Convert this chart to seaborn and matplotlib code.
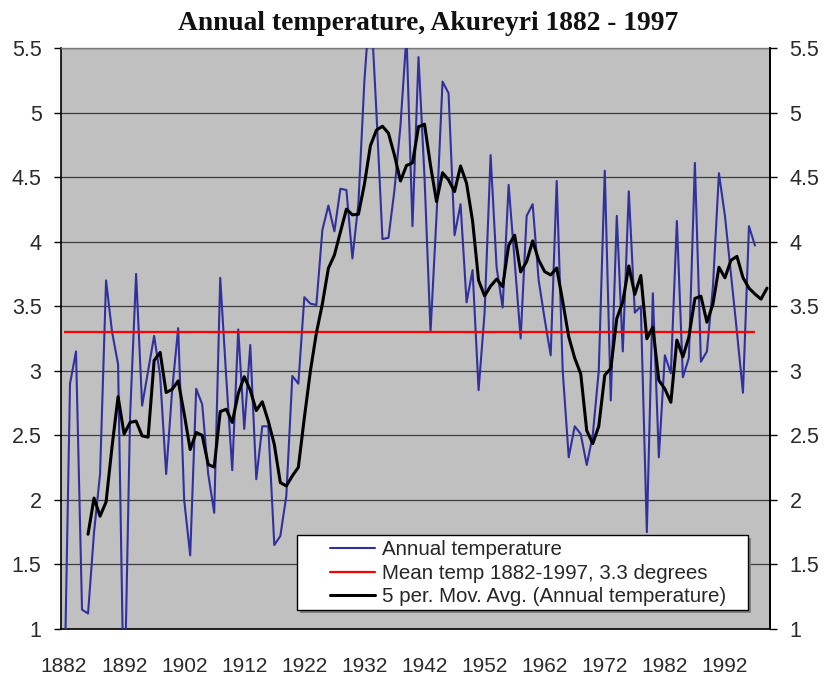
"""
Annual temperature at Akureyri 1882 - 1997 with the long-term mean
and a 5 year moving average, redrawn from an old spreadsheet chart.
"""

import numpy as np
import pandas as pd
import matplotlib.pyplot as plt
from matplotlib.patches import Rectangle
from matplotlib.lines import Line2D
import seaborn as sns

# ---- data ----
years = list(range(1882, 1998))
annual_temp = [
    0.35, 2.90, 3.15, 1.15, 1.12, 1.75, 2.20, 3.70, 3.30, 3.05,   # 1882-1891
    0.30, 2.65, 3.75, 2.73, 3.00, 3.27, 2.96, 2.20, 2.85, 3.33,   # 1892-1901
    2.00, 1.57, 2.86, 2.74, 2.20, 1.90, 3.72, 2.95, 2.23, 3.32,   # 1902-1911
    2.55, 3.20, 2.16, 2.57, 2.57, 1.65, 1.72, 2.03, 2.96, 2.90,   # 1912-1921
    3.57, 3.52, 3.51, 4.09, 4.28, 4.08, 4.41, 4.40, 3.87, 4.30,   # 1922-1931
    5.25, 5.90, 5.00, 4.02, 4.03, 4.40, 4.90, 5.60, 4.12, 5.43,   # 1932-1941
    4.50, 3.30, 4.20, 5.24, 5.15, 4.05, 4.29, 3.53, 3.78, 2.85,   # 1942-1951
    3.45, 4.67, 3.80, 3.49, 4.44, 3.85, 3.25, 4.20, 4.29, 3.70,   # 1952-1961
    3.40, 3.12, 4.47, 3.00, 2.33, 2.57, 2.51, 2.27, 2.50, 3.00,   # 1962-1971
    4.55, 2.77, 4.20, 3.15, 4.39, 3.45, 3.50, 1.75, 3.60, 2.33,   # 1972-1981
    3.12, 2.98, 4.16, 2.95, 3.10, 4.61, 3.07, 3.15, 3.65, 4.53,   # 1982-1991
    4.20, 3.75, 3.30, 2.83, 4.12, 3.97,                           # 1992-1997
]
mean_temp = 3.3
ma_window = 5
axis_years = (1882, 1999)          # categories on the x axis (two empty at the end)
label_years = list(range(1882, 1993, 10))
y_ticks = [1, 1.5, 2, 2.5, 3, 3.5, 4, 4.5, 5, 5.5]

title = "Annual temperature, Akureyri 1882 - 1997"
labels = ["Annual temperature",
          "Mean temp 1882-1997, 3.3 degrees",
          "5 per. Mov. Avg. (Annual temperature)"]

# ---- style ----
sns.set_style("white")
plt.rcParams['font.family'] = ['Liberation Sans', 'DejaVu Sans']

BLUE = '#30309e'
RED = '#ff0000'
BLACK = '#000000'
PLOT_BG = '#c0c0c0'
GRID = '#3c3c3c'
TXT = '#2a2a2a'

# trailing moving average like the spreadsheet trendline
temp_series = pd.Series(annual_temp, index=years)
full = temp_series.reindex(range(axis_years[0], axis_years[1] + 1))
moving_avg = full.rolling(ma_window, min_periods=3).mean()
moving_avg.iloc[:ma_window - 1] = np.nan
moving_avg = moving_avg.dropna()

W, H = 826, 679
fig = plt.figure(figsize=(W / 100, H / 100), dpi=100)
ax = fig.add_axes([61 / W, 50 / H, 709 / W, 581 / H])
ax.set_facecolor(PLOT_BG)

sns.lineplot(x=years, y=annual_temp, ax=ax, color=BLUE, linewidth=1.5, zorder=3)
ax.hlines(mean_temp, years[0], years[-1], color=RED, linewidth=1.6, zorder=4)
sns.lineplot(x=moving_avg.index, y=moving_avg.values, ax=ax, color=BLACK,
             linewidth=2.2, zorder=5)

ax.set_xlim(axis_years[0] - 0.5, axis_years[1] + 0.5)
ax.set_ylim(y_ticks[0], y_ticks[-1])

# x axis: a label every ten years, tick marks every five categories
ax.set_xticks(label_years)
ax.set_xticklabels([str(y) for y in label_years])
ax.set_xticks(np.arange(axis_years[0] - 0.5, years[-1], 5), minor=True)
ax.tick_params(axis='x', which='major', length=0, pad=20, labelsize=15,
               labelcolor=TXT)
ax.tick_params(axis='x', which='minor', length=5, width=1, color=BLACK,
               direction='out')

ax.set_yticks(y_ticks)
ax.set_yticklabels([f"{v:g}" for v in y_ticks])
ax.tick_params(axis='y', length=5, width=1, color=BLACK, pad=9,
               labelsize=15.5, labelcolor=TXT, direction='out', left=True)
ax.yaxis.grid(True, color=GRID, linewidth=0.9)
ax.xaxis.grid(False)
ax.set_axisbelow(True)
ax.set_xlabel('')
ax.set_ylabel('')

for side in ['left', 'bottom', 'right']:
    ax.spines[side].set_color(BLACK)
    ax.spines[side].set_linewidth(1.2)
ax.spines['top'].set_color('#7a7a7a')
ax.spines['top'].set_linewidth(1.0)

# secondary axis with the same scale on the right
ax2 = ax.twinx()
ax2.set_ylim(ax.get_ylim())
ax2.set_yticks(y_ticks)
ax2.set_yticklabels([f"{v:g}" for v in y_ticks])
ax2.tick_params(axis='y', length=5, width=1, color=BLACK, pad=9,
                labelsize=15.5, labelcolor=TXT, direction='out', right=True)
for side in ['left', 'top', 'bottom']:
    ax2.spines[side].set_visible(False)
ax2.spines['right'].set_color(BLACK)
ax2.spines['right'].set_linewidth(1.2)

fig.text(428 / W, 1 - 24 / H, title, ha='center', va='center',
         fontsize=19.8, fontweight='bold', family=['Liberation Serif', 'DejaVu Serif'],
         color='#111111')

# legend box with a small shadow, drawn as figure patches
box = (297 / W, 1 - 610 / H, 451 / W, 75 / H)
fig.patches.append(Rectangle((box[0] + 3 / W, box[1] - 3 / H), box[2], box[3],
                             transform=fig.transFigure, facecolor='#808080',
                             edgecolor='none', zorder=4))
fig.patches.append(Rectangle((box[0], box[1]), box[2], box[3],
                             transform=fig.transFigure, facecolor='white',
                             edgecolor=BLACK, linewidth=1, zorder=4.5))
handles = [Line2D([], [], color=BLUE, linewidth=1.5),
           Line2D([], [], color=RED, linewidth=1.6),
           Line2D([], [], color=BLACK, linewidth=2.2)]
leg = fig.legend(handles, labels, loc='upper left',
                 bbox_to_anchor=(330 / W, 1 - 540 / H), frameon=False,
                 fontsize=14.8, borderpad=0, borderaxespad=0,
                 handlelength=2.19, handletextpad=0.34, labelspacing=0.23)
leg.set_zorder(6)

fig.savefig('out.png', dpi=100, facecolor='white')
